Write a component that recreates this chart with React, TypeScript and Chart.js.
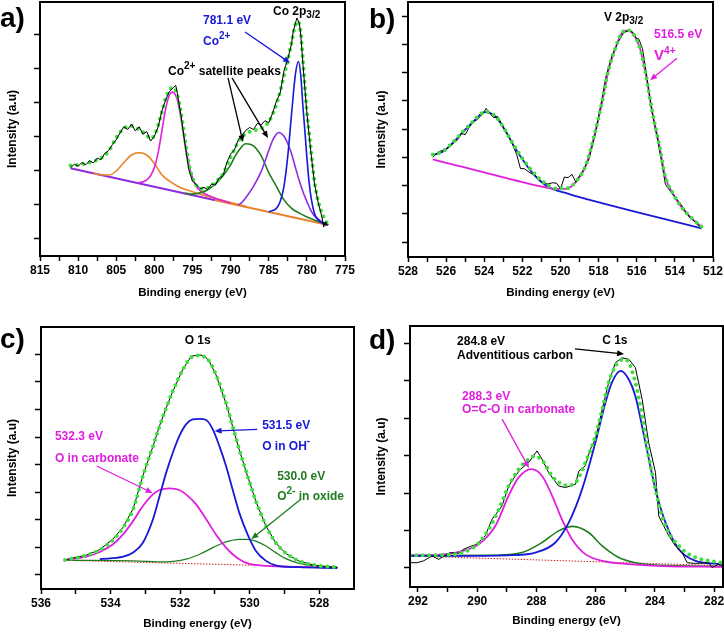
import React, { useEffect, useRef } from 'react';
import { Chart, registerables } from 'chart.js';
Chart.register(...registerables);

const FONT = '"Liberation Sans", Arial, Helvetica, sans-serif';
const BLUE = '#1818d8';
const MAGENTA = '#e01ee0';
const DKGREEN = '#1f7d1f';
const ORANGE = '#e8842c';
const PURPLE = '#8f2ce0';
const LTGREEN = '#3ede3e';
const RED = '#d02020';

// ---------------- Panel a: Co 2p ----------------
const aXMajor = [815, 810, 805, 800, 795, 790, 785, 780, 775];
const aXMinor = [812.5, 807.5, 802.5, 797.5, 792.5, 787.5, 782.5, 777.5];
const aYTicks = [0, 1, 2, 3, 4, 5, 6];
const aFitE = [811, 810, 809, 808, 807, 806, 805, 804, 803, 802, 801, 800.5, 800, 799.5, 799, 798.5, 798, 797.5, 797, 796.5, 796, 795.5, 795, 794.5, 794, 793.5, 793, 792, 791, 790, 789, 788, 787, 786, 785, 784, 783.5, 783, 782.5, 782, 781.5, 781.2, 780.8, 780.5, 780.2, 780, 779.5, 779, 778.5, 778, 777.5, 777.2];
const aFitV = [2.16, 2.18, 2.22, 2.28, 2.38, 2.58, 2.98, 3.25, 3.32, 3.22, 3.05, 2.95, 3.05, 3.35, 3.75, 4.15, 4.40, 4.45, 4.25, 3.70, 2.95, 2.25, 1.80, 1.58, 1.50, 1.47, 1.50, 1.66, 1.92, 2.40, 2.85, 3.10, 3.19, 3.25, 3.45, 3.95, 4.35, 4.80, 5.25, 5.80, 6.30, 6.40, 6.05, 5.20, 4.30, 3.75, 2.70, 1.70, 1.10, 0.75, 0.52, 0.44];
const aRawE = [811, 810.5, 810, 809.5, 809, 808.5, 808, 807.5, 807, 806.5, 806, 805.5, 805, 804.5, 804, 803.5, 803, 802.5, 802, 801.5, 801, 800.5, 800, 799.5, 799, 798.5, 798, 797.5, 797.2, 797, 796.5, 796, 795.5, 795, 794.5, 794, 793.5, 793, 792.5, 792, 791.5, 791, 790.5, 790, 789.5, 789, 788.5, 788, 787.5, 787, 786.5, 786, 785.5, 785, 784.5, 784, 783.5, 783, 782.5, 782, 781.8, 781.5, 781.3, 781, 780.8, 780.5, 780.2, 780, 779.5, 779, 778.5, 778.2, 778, 777.8, 777.6, 777.5];
const aRawV = [2.10, 2.20, 2.14, 2.25, 2.18, 2.30, 2.24, 2.38, 2.33, 2.52, 2.60, 2.78, 2.92, 3.12, 3.30, 3.22, 3.38, 3.18, 3.30, 3.08, 3.16, 2.88, 3.02, 3.30, 3.78, 4.10, 4.35, 4.45, 4.52, 4.30, 3.62, 2.80, 2.05, 1.70, 1.60, 1.48, 1.52, 1.45, 1.62, 1.58, 1.80, 1.86, 2.25, 2.50, 2.62, 2.92, 3.05, 3.20, 3.28, 3.22, 3.40, 3.35, 3.48, 3.42, 3.70, 4.05, 4.30, 4.95, 5.30, 5.75, 6.10, 6.35, 6.50, 6.35, 6.00, 5.10, 4.25, 3.70, 2.60, 1.62, 1.05, 0.80, 0.62, 0.35, 0.50, 0.40];
const aOrangeE = [808, 807, 806, 805, 804, 803, 802, 801, 800, 799, 798, 797, 796, 794, 792, 790, 788];
const aOrangeV = [1.93, 1.89, 1.88, 2.00, 2.25, 2.47, 2.54, 2.47, 2.22, 1.88, 1.70, 1.56, 1.46, 1.32, 1.19, 1.07, 0.96];
const aMagE = [802, 801.5, 801, 800.5, 800, 799.5, 799, 798.5, 798, 797.6, 797, 796.5, 796, 795.5, 795, 794.5, 794, 793, 792, 790];
const aMagV = [1.66, 1.68, 1.74, 1.86, 2.10, 2.55, 3.20, 3.85, 4.25, 4.32, 4.10, 3.55, 2.85, 2.20, 1.80, 1.55, 1.42, 1.29, 1.20, 1.06];
const aGreenE = [796, 795, 794, 793, 792, 791, 790, 789.5, 789, 788, 787, 786, 785, 784, 783, 782, 781, 780, 779, 778, 777.2];
const aGreenV = [1.35, 1.32, 1.36, 1.45, 1.62, 1.86, 2.18, 2.40, 2.58, 2.80, 2.74, 2.45, 1.95, 1.55, 1.15, 0.90, 0.76, 0.65, 0.56, 0.48, 0.42];
const aPurpleE = [789, 788.5, 788, 787, 786, 785, 784.5, 784, 783.7, 783, 782.5, 782, 781.5, 781, 780.5, 780, 779.5, 779, 778, 777.2];
const aPurpleV = [1.00, 1.08, 1.22, 1.55, 1.98, 2.60, 2.90, 3.08, 3.13, 3.02, 2.80, 2.50, 2.10, 1.72, 1.38, 1.10, 0.85, 0.68, 0.50, 0.42];
const aBlueE = [785, 784, 783.5, 783, 782.5, 782, 781.5, 781.1, 780.8, 780.5, 780.2, 780, 779.7, 779.4, 779, 778.5, 778, 777.2];
const aBlueV = [0.80, 0.90, 1.10, 1.55, 2.45, 3.70, 4.85, 5.22, 4.80, 3.85, 3.00, 2.40, 1.65, 1.15, 0.75, 0.55, 0.47, 0.42];
const aBgPurpleE = [811, 792];
const aBgPurpleV = [2.08, 1.14];
const aBgOrangeE = [792, 777.2];
const aBgOrangeV = [1.14, 0.41];

// ---------------- Panel b: V 2p ----------------
const bXMajor = [528, 526, 524, 522, 520, 518, 516, 514, 512];
const bXMinor = [527, 525, 523, 521, 519, 517, 515, 513];
const bYTicks = [0, 1, 2, 3, 4, 5, 6, 7, 8];
const bFitE = [526.7, 526.2, 525.7, 525.2, 524.6, 524.1, 523.9, 523.4, 522.9, 522.4, 521.8, 521.3, 520.8, 520.3, 519.7, 519.2, 518.7, 518.2, 517.8, 517.5, 517.1, 516.8, 516.5, 516.2, 515.8, 515.5, 515.2, 514.8, 514.5, 514.1, 513.6, 513.1, 512.6];
const bFitV = [3.10, 3.20, 3.49, 3.85, 4.26, 4.58, 4.61, 4.44, 3.96, 3.37, 2.78, 2.37, 2.08, 1.90, 1.90, 2.14, 2.67, 3.85, 5.03, 6.05, 6.91, 7.39, 7.50, 7.39, 6.80, 5.85, 4.67, 3.37, 2.31, 1.72, 1.19, 0.84, 0.54];
const bRawE = [526.7, 526.4, 526.0, 525.7, 525.4, 525.2, 525.0, 524.8, 524.6, 524.4, 524.2, 524.0, 523.9, 523.7, 523.5, 523.3, 523.1, 522.9, 522.6, 522.3, 522.1, 521.9, 521.6, 521.3, 521.0, 520.7, 520.4, 520.2, 520.0, 519.8, 519.6, 519.4, 519.2, 519.0, 518.8, 518.5, 518.2, 517.9, 517.6, 517.3, 517.0, 516.7, 516.4, 516.2, 516.0, 515.9, 515.7, 515.5, 515.2, 514.9, 514.7, 514.5, 514.3, 514.0, 513.7, 513.4, 513.2, 513.0, 512.8, 512.6];
const bRawV = [3.00, 3.20, 3.28, 3.45, 3.62, 3.85, 3.80, 4.05, 4.25, 4.32, 4.45, 4.62, 4.73, 4.55, 4.40, 4.45, 4.20, 3.95, 3.60, 3.10, 2.60, 2.60, 2.45, 2.35, 2.15, 2.05, 2.10, 2.08, 1.88, 2.30, 2.28, 2.40, 2.12, 2.35, 2.55, 2.95, 3.75, 4.80, 5.90, 6.60, 7.05, 7.40, 7.50, 7.42, 7.20, 7.20, 6.85, 6.00, 4.60, 3.60, 2.85, 2.05, 1.85, 1.60, 1.35, 1.05, 0.85, 0.75, 0.60, 0.50];
const bMagE = [526.7, 522.0, 521.3, 520.8, 520.3, 519.7, 519.2, 518.7, 518.2, 517.8, 517.5, 517.1, 516.8, 516.5, 516.2, 515.8, 515.5, 515.2, 514.8, 514.5, 514.1, 513.6, 513.1, 512.6];
const bMagV = [2.93, 2.12, 2.01, 1.94, 1.88, 1.88, 2.12, 2.65, 3.83, 5.01, 6.03, 6.90, 7.38, 7.49, 7.38, 6.79, 5.84, 4.66, 3.36, 2.30, 1.71, 1.18, 0.83, 0.53];
const bBlueE = [526.7, 526.2, 525.7, 525.2, 524.6, 524.1, 523.9, 523.4, 522.9, 522.4, 521.8, 521.3, 520.8, 520.3, 519.7, 519.0, 512.6];
const bBlueV = [3.09, 3.19, 3.48, 3.84, 4.25, 4.57, 4.60, 4.43, 3.95, 3.35, 2.74, 2.32, 2.02, 1.85, 1.73, 1.59, 0.48];

// ---------------- Panel c: O 1s ----------------
const cXMajor = [536, 534, 532, 530, 528];
const cXMinor = [535, 533, 531, 529];
const cYTicks = [0, 1, 2, 3, 4, 5, 6, 7, 8];
const cFitE = [535.31, 534.69, 534.31, 533.93, 533.64, 533.35, 533.07, 532.78, 532.59, 532.40, 532.21, 531.92, 531.68, 531.44, 531.30, 531.16, 530.97, 530.68, 530.49, 530.30, 530.06, 529.82, 529.53, 529.25, 528.96, 528.58, 528.10, 527.48];
const cFitV = [0.54, 0.71, 0.91, 1.27, 1.71, 2.38, 3.59, 4.67, 5.40, 6.06, 6.67, 7.45, 7.89, 7.96, 7.91, 7.75, 7.27, 6.24, 5.40, 4.55, 3.59, 2.68, 1.78, 1.17, 0.79, 0.51, 0.35, 0.28];
const cRawV = [0.55, 0.72, 0.92, 1.30, 1.73, 2.40, 3.60, 4.66, 5.41, 6.05, 6.66, 7.46, 7.93, 7.98, 7.94, 7.74, 7.26, 6.22, 5.38, 4.54, 3.58, 2.66, 1.77, 1.16, 0.78, 0.50, 0.34, 0.27];
const cMagE = [535.31, 534.69, 534.31, 533.93, 533.64, 533.35, 533.07, 532.78, 532.59, 532.30, 532.02, 531.83, 531.54, 531.25, 530.97, 530.68, 530.49, 530.30, 530.06, 529.53, 528.58, 527.48];
const cMagV = [0.54, 0.66, 0.83, 1.11, 1.47, 1.96, 2.50, 2.92, 3.08, 3.14, 3.08, 2.92, 2.56, 2.02, 1.47, 0.99, 0.75, 0.57, 0.42, 0.33, 0.29, 0.27];
const cBlueE = [534.31, 533.64, 533.35, 533.07, 532.78, 532.59, 532.40, 532.21, 532.02, 531.83, 531.64, 531.44, 531.25, 531.06, 530.87, 530.68, 530.49, 530.30, 530.06, 529.82, 529.53, 529.25, 528.58, 527.48];
const cBlueV = [0.57, 0.66, 0.81, 1.17, 2.02, 2.86, 3.71, 4.43, 5.04, 5.46, 5.64, 5.66, 5.62, 5.28, 4.67, 3.95, 3.10, 2.26, 1.47, 0.87, 0.51, 0.35, 0.28, 0.25];
const cGreenE = [535.31, 533.35, 532.40, 531.83, 531.44, 531.06, 530.68, 530.30, 530.06, 529.82, 529.53, 529.25, 528.96, 528.58, 528.10, 527.48];
const cGreenV = [0.53, 0.51, 0.47, 0.57, 0.75, 0.99, 1.20, 1.29, 1.29, 1.23, 1.05, 0.81, 0.59, 0.42, 0.33, 0.27];
const cBgE = [535.31, 527.48];
const cBgV = [0.53, 0.27];

// ---------------- Panel d: C 1s ----------------
const dXMajor = [292, 290, 288, 286, 284, 282];
const dXMinor = [291, 289, 287, 285, 283];
const dYTicks = [0, 1, 2, 3, 4, 5, 6];
const dFitE = [292.28, 291.64, 290.96, 290.51, 290.06, 289.61, 289.27, 288.94, 288.60, 288.26, 288.04, 287.75, 287.47, 287.14, 286.91, 286.63, 286.35, 286.01, 285.78, 285.56, 285.33, 285.05, 284.88, 284.66, 284.43, 284.21, 283.98, 283.76, 283.53, 283.19, 282.86, 282.41, 281.73];
const dFitV = [0.34, 0.34, 0.35, 0.41, 0.59, 1.03, 1.57, 2.19, 2.64, 2.91, 2.99, 2.82, 2.46, 2.24, 2.21, 2.33, 2.82, 3.53, 4.24, 4.96, 5.40, 5.58, 5.49, 4.96, 4.06, 2.99, 2.10, 1.39, 0.94, 0.59, 0.37, 0.23, 0.14];
const dRawE = [292.28, 292.03, 291.81, 291.53, 291.30, 291.08, 290.91, 290.63, 290.46, 290.18, 290.01, 289.73, 289.50, 289.16, 288.94, 288.71, 288.54, 288.26, 287.98, 287.81, 287.59, 287.25, 287.02, 286.68, 286.57, 286.35, 286.18, 286.01, 285.78, 285.56, 285.33, 285.11, 284.88, 284.66, 284.43, 284.21, 283.98, 283.87, 283.76, 283.53, 283.31, 283.08, 282.91, 282.63, 282.18, 282.07, 281.84, 281.73];
const dRawV = [0.14, 0.14, 0.19, 0.32, 0.23, 0.34, 0.41, 0.39, 0.50, 0.59, 0.63, 0.86, 1.30, 1.66, 2.19, 2.46, 2.64, 2.82, 3.13, 2.91, 2.55, 2.19, 2.15, 2.24, 2.59, 2.73, 3.17, 3.44, 4.24, 4.96, 5.49, 5.62, 5.58, 5.36, 4.51, 3.35, 2.55, 1.39, 1.21, 0.86, 0.59, 0.41, 0.14, 0.12, 0.14, 0.01, 0.10, 0.05];
const dMagE = [292.28, 291.64, 290.51, 289.95, 289.39, 288.94, 288.60, 288.17, 287.81, 287.47, 287.14, 286.80, 286.35, 285.78, 284.88, 283.76, 281.73];
const dMagV = [0.34, 0.34, 0.45, 0.63, 1.12, 1.93, 2.42, 2.64, 2.46, 1.93, 1.30, 0.77, 0.37, 0.19, 0.10, 0.05, 0.03];
const dGreenE = [292.28, 289.39, 288.49, 287.81, 287.25, 286.77, 286.23, 285.78, 285.22, 284.66, 283.76, 281.73];
const dGreenV = [0.33, 0.34, 0.41, 0.68, 0.99, 1.11, 0.94, 0.59, 0.28, 0.14, 0.07, 0.04];
const dBlueE = [292.28, 290.51, 288.82, 288.04, 287.36, 286.91, 286.46, 286.01, 285.67, 285.45, 285.16, 284.88, 284.66, 284.32, 283.98, 283.64, 283.19, 282.63, 281.73];
const dBlueV = [0.32, 0.32, 0.34, 0.41, 0.68, 1.21, 2.10, 3.35, 4.42, 4.96, 5.27, 5.04, 4.60, 3.35, 2.10, 1.21, 0.50, 0.19, 0.10];
const dBgE = [292.28, 281.73];
const dBgV = [0.32, 0.06];

// ---------------- helpers ----------------
type Seg = [string, 'n' | 'sup' | 'sub' | 'big'];
interface Note { x: number; y: number; color: string; segs: Seg[] }
interface Arrow { x1: number; y1: number; x2: number; y2: number; color: string }

const pts = (xs: number[], ys: number[]) => xs.map((x, i) => ({ x, y: ys[i] }));
const curve = (xs: number[], ys: number[], color: string, width: number, extra: any = {}) => ({
  data: pts(xs, ys), borderColor: color, borderWidth: width, pointRadius: 0, fill: false,
  cubicInterpolationMode: 'monotone', ...extra,
});
const dots = (xs: number[], ys: number[]) => curve(xs, ys, LTGREEN, 4, { borderDash: [0, 6.5], borderCapStyle: 'round' });
const raw = (xs: number[], ys: number[]) => curve(xs, ys, '#000', 1, { cubicInterpolationMode: 'default', tension: 0 });
const straight = (xs: number[], ys: number[], color: string, width: number, extra: any = {}) =>
  curve(xs, ys, color, width, { cubicInterpolationMode: 'default', tension: 0, ...extra });

interface Spec {
  left: number; top: number; letter: string; letterX: number; letterY: number;
  padTop: number; padRight: number; yWidth: number; xHeight: number;
  xMin: number; xMax: number; yMin: number; yMax: number;
  xMajor: number[]; xMinor: number[]; yTicks: number[];
  xTitlePad: number; yTitlePad: number;
  datasets: any[]; notes: Note[]; arrows: Arrow[];
}

const specs: Spec[] = [
  {
    left: 0, top: 0, letter: 'a)', letterX: 0, letterY: 27,
    padTop: 2, padRight: 17, yWidth: 40, xHeight: 60,
    xMin: 775, xMax: 815, yMin: -0.5, yMax: 6.97,
    xMajor: aXMajor, xMinor: aXMinor, yTicks: aYTicks, xTitlePad: 16.4, yTitlePad: 5.8,
    datasets: [
      raw(aRawE, aRawV),
      dots(aFitE, aFitV),
      curve(aBlueE, aBlueV, BLUE, 1.6),
      curve(aPurpleE, aPurpleV, PURPLE, 1.6),
      curve(aGreenE, aGreenV, DKGREEN, 1.6),
      curve(aMagE, aMagV, MAGENTA, 1.6),
      curve(aOrangeE, aOrangeV, ORANGE, 1.6),
      straight(aBgOrangeE, aBgOrangeV, ORANGE, 2),
      straight(aBgPurpleE, aBgPurpleV, PURPLE, 2),
    ],
    notes: [
      { x: 784.44, y: 6.59, color: '#000', segs: [['Co 2p', 'n'], ['3/2', 'sub']] },
      { x: 793.62, y: 6.32, color: BLUE, segs: [['781.1 eV', 'n']] },
      { x: 793.62, y: 5.71, color: BLUE, segs: [['Co', 'n'], ['2+', 'sup']] },
      { x: 798.21, y: 4.82, color: '#000', segs: [['Co', 'n'], ['2+', 'sup'], [' satellite peaks', 'n']] },
    ],
    arrows: [
      { x1: 788.11, y1: 6.09, x2: 782.21, y2: 5.18, color: BLUE },
      { x1: 790.34, y1: 4.74, x2: 788.38, y2: 2.85, color: '#000' },
      { x1: 789.82, y1: 4.74, x2: 785.1, y2: 2.97, color: '#000' },
    ],
  },
  {
    left: 362, top: 0, letter: 'b)', letterX: 7, letterY: 28,
    padTop: 2, padRight: 11, yWidth: 46, xHeight: 59,
    xMin: 512, xMax: 528, yMin: -0.53, yMax: 8.5,
    xMajor: bXMajor, xMinor: bXMinor, yTicks: bYTicks, xTitlePad: 16.4, yTitlePad: 12.8,
    datasets: [
      dots(bFitE, bFitV),
      raw(bRawE, bRawV),
      curve(bMagE, bMagV, MAGENTA, 1.8),
      curve(bBlueE, bBlueV, BLUE, 1.8),
    ],
    notes: [
      { x: 517.72, y: 7.82, color: '#000', segs: [['V 2p', 'n'], ['3/2', 'sub']] },
      { x: 515.09, y: 7.22, color: MAGENTA, segs: [['516.5 eV', 'n']] },
      { x: 515.09, y: 6.44, color: MAGENTA, segs: [['V', 'big'], ['4+', 'sup']] },
    ],
    arrows: [
      { x1: 513.89, y1: 6.51, x2: 515.3, y2: 5.73, color: MAGENTA },
    ],
  },
  {
    left: 0, top: 316, letter: 'c)', letterX: 0, letterY: 32,
    padTop: 11, padRight: 8, yWidth: 41, xHeight: 43,
    xMin: 527, xMax: 536, yMin: -0.51, yMax: 8.99,
    xMajor: cXMajor, xMinor: cXMinor, yTicks: cYTicks, xTitlePad: 1.4, yTitlePad: 5.8,
    datasets: [
      dots(cFitE, cFitV),
      raw(cFitE, cRawV),
      curve(cBlueE, cBlueV, BLUE, 1.8),
      curve(cMagE, cMagV, MAGENTA, 1.8),
      curve(cGreenE, cGreenV, DKGREEN, 1.3),
      straight(cBgE, cBgV, RED, 1, { borderDash: [1.5, 1.5] }),
    ],
    notes: [
      { x: 531.87, y: 8.37, color: '#000', segs: [['O 1s', 'n']] },
      { x: 529.64, y: 5.29, color: BLUE, segs: [['531.5 eV', 'n']] },
      { x: 529.64, y: 4.53, color: BLUE, segs: [['O in OH', 'n'], ['-', 'sup']] },
      { x: 535.6, y: 4.89, color: MAGENTA, segs: [['532.3 eV', 'n']] },
      { x: 535.6, y: 4.09, color: MAGENTA, segs: [['O in carbonate', 'n']] },
      { x: 529.21, y: 3.44, color: DKGREEN, segs: [['530.0 eV', 'n']] },
      { x: 529.21, y: 2.72, color: DKGREEN, segs: [['O', 'n'], ['2-', 'sup'], [' in oxide', 'n']] },
    ],
    arrows: [
      { x1: 529.78, y1: 5.28, x2: 531.01, y2: 5.22, color: BLUE },
      { x1: 534.4, y1: 3.95, x2: 532.79, y2: 2.97, color: MAGENTA },
      { x1: 528.52, y1: 2.75, x2: 529.95, y2: 1.30, color: DKGREEN },
    ],
  },
  {
    left: 362, top: 316, letter: 'd)', letterX: 7, letterY: 33,
    padTop: 10, padRight: 1, yWidth: 48, xHeight: 45,
    xMin: 281.7, xMax: 292.27, yMin: -0.51, yMax: 6.47,
    xMajor: dXMajor, xMinor: dXMinor, yTicks: dYTicks, xTitlePad: 4.4, yTitlePad: 12.8,
    datasets: [
      dots(dFitE, dFitV),
      raw(dRawE, dRawV),
      curve(dBlueE, dBlueV, BLUE, 1.8),
      curve(dMagE, dMagV, MAGENTA, 1.8),
      curve(dGreenE, dGreenV, DKGREEN, 1.6),
      straight(dBgE, dBgV, RED, 1, { borderDash: [1.5, 1.5] }),
    ],
    notes: [
      { x: 290.68, y: 5.96, color: '#000', segs: [['284.8 eV', 'n']] },
      { x: 290.68, y: 5.59, color: '#000', segs: [['Adventitious carbon', 'n']] },
      { x: 285.78, y: 5.99, color: '#000', segs: [['C 1s', 'n']] },
      { x: 290.51, y: 4.49, color: MAGENTA, segs: [['288.3 eV', 'n']] },
      { x: 290.51, y: 4.14, color: MAGENTA, segs: [['O=C-O in carbonate', 'n']] },
    ],
    arrows: [
      { x1: 286.7, y1: 5.86, x2: 285.04, y2: 5.72, color: '#000' },
      { x1: 289.16, y1: 3.98, x2: 288.25, y2: 2.67, color: MAGENTA },
    ],
  },
];

function buildChart(canvas: HTMLCanvasElement, s: Spec) {
  const overlay = {
    id: 'overlay',
    afterDatasetsDraw(chart: any) {
      const { ctx, chartArea: ca } = chart;
      const xs = chart.scales.x;
      const ys = chart.scales.y;
      ctx.save();
      ctx.strokeStyle = '#000';
      ctx.lineWidth = 2;
      ctx.strokeRect(ca.left, ca.top, ca.right - ca.left, ca.bottom - ca.top);
      for (const a of s.arrows) {
        const x1 = xs.getPixelForValue(a.x1), y1 = ys.getPixelForValue(a.y1);
        const x2 = xs.getPixelForValue(a.x2), y2 = ys.getPixelForValue(a.y2);
        ctx.strokeStyle = a.color;
        ctx.fillStyle = a.color;
        ctx.lineWidth = 1.3;
        const ang = Math.atan2(y2 - y1, x2 - x1);
        const L = 7, W = 3;
        ctx.beginPath();
        ctx.moveTo(x1, y1);
        ctx.lineTo(x2 - 4 * Math.cos(ang), y2 - 4 * Math.sin(ang));
        ctx.stroke();
        ctx.beginPath();
        ctx.moveTo(x2, y2);
        ctx.lineTo(x2 - L * Math.cos(ang) + W * Math.sin(ang), y2 - L * Math.sin(ang) - W * Math.cos(ang));
        ctx.lineTo(x2 - L * Math.cos(ang) - W * Math.sin(ang), y2 - L * Math.sin(ang) + W * Math.cos(ang));
        ctx.closePath();
        ctx.fill();
      }
      ctx.textAlign = 'left';
      ctx.textBaseline = 'alphabetic';
      for (const n of s.notes) {
        let px = xs.getPixelForValue(n.x);
        const py = ys.getPixelForValue(n.y);
        ctx.fillStyle = n.color;
        for (const [t, k] of n.segs) {
          const size = k === 'n' ? 12 : k === 'big' ? 15 : 10;
          const dy = k === 'sup' ? -6 : k === 'sub' ? 3 : 0;
          ctx.font = `bold ${size}px ${FONT}`;
          ctx.fillText(t, px, py + dy);
          px += ctx.measureText(t).width;
        }
      }
      ctx.fillStyle = '#000';
      ctx.font = `bold 28px ${FONT}`;
      ctx.fillText(s.letter, s.letterX, s.letterY);
      ctx.restore();
    },
  };

  const allX = [...s.xMajor, ...s.xMinor].sort((p, q) => p - q);
  const tickFont = { family: FONT, size: 12, weight: 'bold' as const };

  return new Chart(canvas, {
    type: 'line',
    data: { datasets: s.datasets },
    plugins: [overlay],
    options: {
      animation: false,
      responsive: false,
      maintainAspectRatio: false,
      devicePixelRatio: 1,
      events: [],
      layout: { autoPadding: false, padding: { left: 0, top: s.padTop, right: s.padRight, bottom: 0 } },
      plugins: { legend: { display: false }, tooltip: { enabled: false } },
      scales: {
        x: {
          type: 'linear', reverse: true, min: s.xMin, max: s.xMax,
          afterFit: (sc: any) => { sc.height = s.xHeight; },
          afterBuildTicks: (sc: any) => { sc.ticks = allX.map((v) => ({ value: v })); },
          ticks: {
            autoSkip: false, maxRotation: 0, minRotation: 0, padding: 2, color: '#000', font: tickFont,
            callback: (v: any) => (s.xMajor.includes(Number(v)) ? String(v) : ''),
          },
          grid: { display: true, drawOnChartArea: false, drawTicks: true, tickLength: 5, tickColor: '#000', tickWidth: 1.5, color: '#000' },
          border: { display: false },
          title: {
            display: true, text: 'Binding energy (eV)', color: '#000',
            font: { family: FONT, size: 11.5, weight: 'bold' }, padding: { top: 0, bottom: s.xTitlePad },
          },
        },
        y: {
          type: 'linear', min: s.yMin, max: s.yMax,
          afterFit: (sc: any) => { sc.width = s.yWidth; },
          afterBuildTicks: (sc: any) => { sc.ticks = s.yTicks.map((v) => ({ value: v })); },
          ticks: { display: false },
          grid: { display: true, drawOnChartArea: false, drawTicks: true, tickLength: 6, tickColor: '#000', tickWidth: 1.5, color: '#000' },
          border: { display: false },
          title: {
            display: true, text: 'Intensity (a.u)', color: '#000',
            font: { family: FONT, size: 12, weight: 'bold' }, padding: { top: s.yTitlePad, bottom: 0 },
          },
        },
      },
    } as any,
  });
}

function Panel({ spec }: { spec: Spec }) {
  const ref = useRef<HTMLCanvasElement | null>(null);
  useEffect(() => {
    if (!ref.current) return;
    const chart = buildChart(ref.current, spec);
    return () => chart.destroy();
  }, [spec]);
  return (
    <canvas
      ref={ref}
      width={362}
      height={316}
      style={{ position: 'absolute', left: spec.left, top: spec.top, width: 362, height: 316 }}
    />
  );
}

export default function App() {
  return (
    <div style={{ position: 'fixed', left: 0, top: 0, width: 724, height: 632, background: '#fff', overflow: 'hidden' }}>
      {specs.map((s) => (
        <Panel key={s.letter} spec={s} />
      ))}
    </div>
  );
}
